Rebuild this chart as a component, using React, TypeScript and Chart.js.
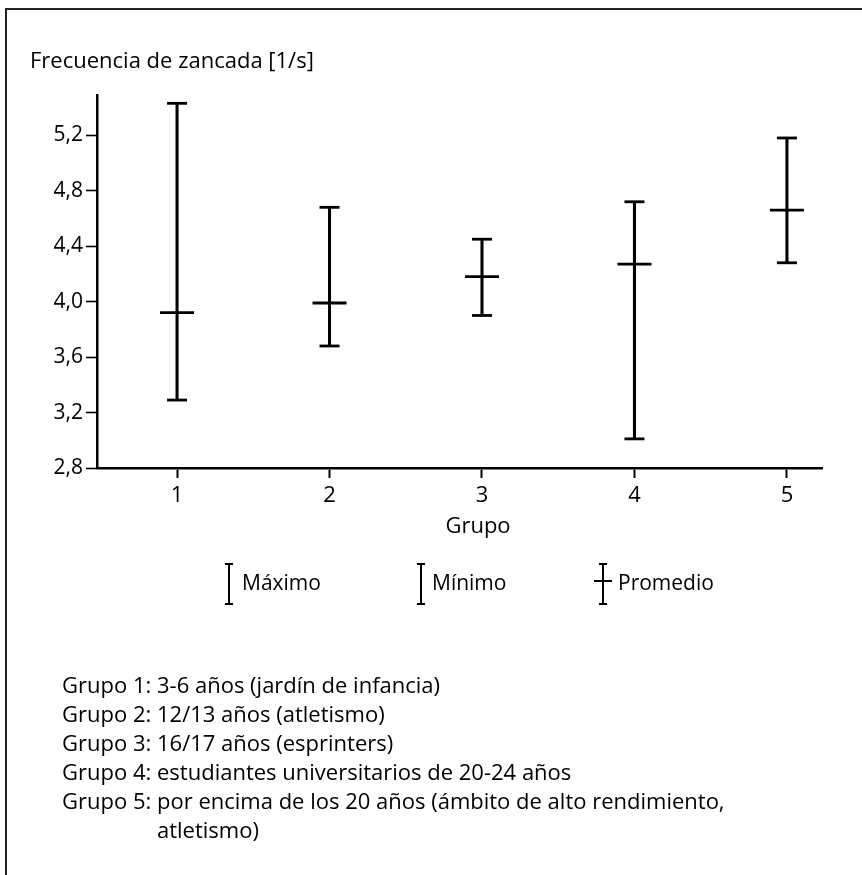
import React, { useEffect, useRef } from 'react';
import { Chart, registerables } from 'chart.js';

Chart.register(...registerables);

// ---- data ----
const groups = [1, 2, 3, 4, 5];
const maxima = [5.43, 4.68, 4.45, 4.72, 5.18];
const minima = [3.29, 3.68, 3.9, 3.01, 4.28];
const means = [3.92, 3.99, 4.18, 4.27, 4.66];
const yTicks = [2.8, 3.2, 3.6, 4.0, 4.4, 4.8, 5.2];
const xTicks = [1, 2, 3, 4, 5];
const legendLabels = ['Máximo', 'Mínimo', 'Promedio'];
const yTitle = 'Frecuencia de zancada [1/s]';
const xTitle = 'Grupo';
const noteLabels = ['Grupo 1:', 'Grupo 2:', 'Grupo 3:', 'Grupo 4:', 'Grupo 5:'];
const noteTexts = [
  ['3-6 años (jardín de infancia)'],
  ['12/13 años (atletismo)'],
  ['16/17 años (esprinters)'],
  ['estudiantes universitarios de 20-24 años'],
  ['por encima de los 20 años (ámbito de alto rendimiento,', 'atletismo)'],
];

// ---- styling ----
const FONT = "'Open Sans', 'Noto Sans', sans-serif";
const WEIGHT = 500;
const INK = '#000000';
const W = 862;
const H = 875;
const legendIconX = [229, 421, 603];
const legendTextX = [242, 432, 618];

const decorPlugin = {
  id: 'decor',
  afterDraw(chart: any) {
    const { ctx } = chart;
    ctx.save();
    ctx.fillStyle = INK;
    ctx.strokeStyle = INK;
    ctx.textBaseline = 'alphabetic';
    ctx.font = `${WEIGHT} 22px ${FONT}`;
    ctx.textAlign = 'left';
    ctx.fillText(yTitle, 30, 68);
    ctx.textAlign = 'center';
    ctx.fillText(xTitle, 478, 533);

    ctx.font = `${WEIGHT} 21px ${FONT}`;
    ctx.textAlign = 'left';
    legendLabels.forEach((lab, i) => {
      const ix = legendIconX[i];
      ctx.lineWidth = 2;
      ctx.beginPath();
      ctx.moveTo(ix, 564);
      ctx.lineTo(ix, 604);
      ctx.moveTo(ix - 4, 564);
      ctx.lineTo(ix + 4, 564);
      ctx.moveTo(ix - 4, 604);
      ctx.lineTo(ix + 4, 604);
      if (i === 2) {
        ctx.moveTo(ix - 9, 581);
        ctx.lineTo(ix + 9, 581);
      }
      ctx.stroke();
      ctx.fillText(lab, legendTextX[i], 590);
    });
    ctx.restore();
  },
};

export default function App() {
  const ref = useRef<HTMLCanvasElement | null>(null);

  useEffect(() => {
    if (!ref.current) return;
    const pts = (vals: number[]) => groups.map((g, i) => ({ x: g, y: vals[i] }));
    const chart = new Chart(ref.current, {
      type: 'bar',
      data: {
        datasets: [
          {
            type: 'bar',
            label: 'Rango',
            data: groups.map((g, i) => ({ x: g, y: [minima[i], maxima[i]] })) as any,
            backgroundColor: INK,
            borderWidth: 0,
            barThickness: 2.4,
            grouped: false,
          } as any,
          {
            type: 'scatter',
            label: legendLabels[0],
            data: pts(maxima),
            pointStyle: 'line',
            pointRadius: 10,
            borderWidth: 2.8,
            borderColor: INK,
            backgroundColor: INK,
          } as any,
          {
            type: 'scatter',
            label: legendLabels[1],
            data: pts(minima),
            pointStyle: 'line',
            pointRadius: 10,
            borderWidth: 2.8,
            borderColor: INK,
            backgroundColor: INK,
          } as any,
          {
            type: 'scatter',
            label: legendLabels[2],
            data: pts(means),
            pointStyle: 'line',
            pointRadius: 17,
            borderWidth: 2.8,
            borderColor: INK,
            backgroundColor: INK,
          } as any,
        ],
      },
      options: {
        responsive: false,
        animation: false,
        devicePixelRatio: 1,
        layout: { padding: { left: 0, top: 95, right: 40, bottom: H - 468 - 60 } },
        plugins: {
          legend: { display: false },
          tooltip: { enabled: false },
          title: { display: false },
        },
        scales: {
          x: {
            type: 'linear',
            offset: false,
            min: 0.475,
            max: 5.23,
            afterBuildTicks: (s: any) => {
              s.ticks = xTicks.map((v) => ({ value: v }));
            },
            afterFit: (s: any) => {
              s.height = 60;
            },
            grid: {
              offset: false,
              drawOnChartArea: false,
              drawTicks: true,
              tickLength: 10,
              tickColor: INK,
              tickWidth: 2,
            },
            border: { display: true, color: INK, width: 2.5 },
            ticks: {
              padding: 5,
              color: INK,
              font: { family: FONT, size: 22, weight: WEIGHT },
              maxRotation: 0,
              callback: (v: any) => String(v),
            },
          },
          y: {
            type: 'linear',
            min: 2.8,
            max: 5.49,
            afterBuildTicks: (s: any) => {
              s.ticks = yTicks.map((v) => ({ value: v }));
            },
            afterFit: (s: any) => {
              s.width = 97;
            },
            grid: {
              drawOnChartArea: false,
              drawTicks: true,
              tickLength: 11,
              tickColor: INK,
              tickWidth: 1.6,
            },
            border: { display: true, color: INK, width: 2.5 },
            ticks: {
              padding: 3,
              color: INK,
              font: { family: FONT, size: 21, weight: WEIGHT },
              callback: (v: any) => Number(v).toFixed(1).replace('.', ','),
            },
          },
        },
      } as any,
      plugins: [decorPlugin],
    });
    return () => chart.destroy();
  }, []);

  return (
    <div style={{ position: 'absolute', left: 0, top: 0, width: W, height: H, background: '#fff', overflow: 'hidden' }}>
      <div
        style={{
          position: 'absolute',
          left: 5,
          top: 8,
          width: W,
          height: H,
          borderTop: '2px solid #222',
          borderLeft: '2px solid #222',
        }}
      />
      <canvas ref={ref} width={W} height={H} style={{ position: 'absolute', left: 0, top: 0 }} />
      <div
        style={{
          position: 'absolute',
          left: 62,
          top: 670,
          fontFamily: FONT,
          fontWeight: WEIGHT,
          fontSize: 22,
          lineHeight: '29px',
          color: INK,
          display: 'grid',
          gridTemplateColumns: '95px auto',
          whiteSpace: 'nowrap',
        }}
      >
        {noteLabels.map((lab, i) => (
          <React.Fragment key={lab}>
            <div>{lab}</div>
            <div>
              {noteTexts[i].map((t, j) => (
                <div key={j}>{t}</div>
              ))}
            </div>
          </React.Fragment>
        ))}
      </div>
    </div>
  );
}
